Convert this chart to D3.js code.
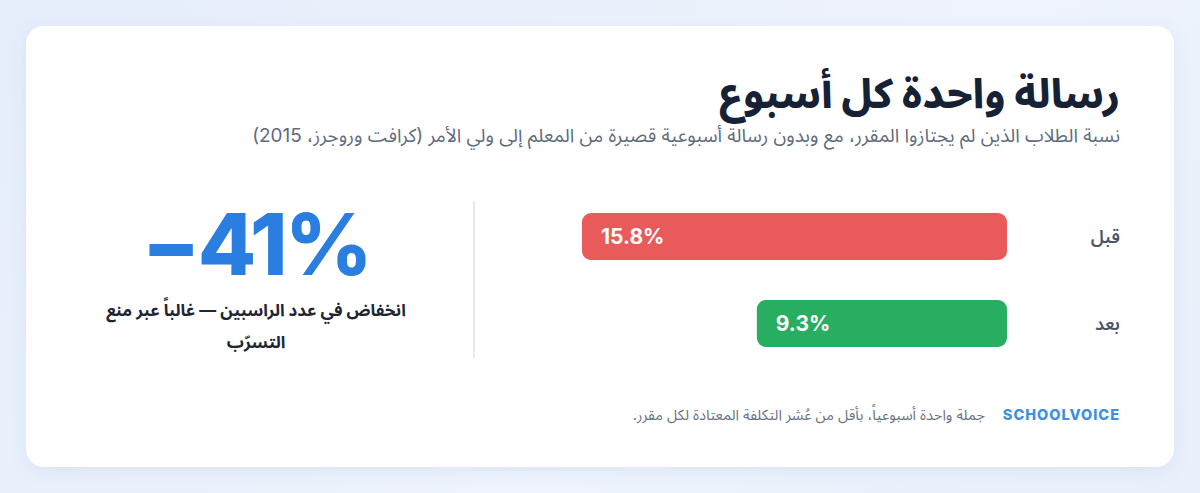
<!DOCTYPE html>
<html lang="ar">
<head>
<meta charset="utf-8">
<script src="https://cdn.jsdelivr.net/npm/d3@7"></script>
<style>
  html,body{margin:0;padding:0;}
  body{width:1200px;height:493px;overflow:hidden;background:linear-gradient(135deg,#e6edfb 0%,#eef3fc 60%,#e9f0fb 100%);font-family:Inter,"Noto Sans Arabic","Noto Sans",sans-serif;}
  svg{display:block;}
</style>
</head>
<body>
<script>
const categories = ["قبل", "بعد"];
const values = [15.8, 9.3];
const valueLabels = ["15.8%", "9.3%"];
const barColors = ["#e95a5a", "#27ae60"];
const title = "رسالة واحدة كل أسبوع";
const subtitle = "نسبة الطلاب الذين لم يجتازوا المقرر، مع وبدون رسالة أسبوعية قصيرة من المعلم إلى ولي الأمر (كرافت وروجرز، 2015)";
const bigStat = "−41%";
const captionLines = ["انخفاض في عدد الراسبين — غالباً عبر منع", "التسرّب"];
const brand = "SCHOOLVOICE";
const footNote = "جملة واحدة أسبوعياً، بأقل من عُشر التكلفة المعتادة لكل مقرر.";

const W = 1200, H = 493;
const svg = d3.select("body").append("svg").attr("width", W).attr("height", H);

const defs = svg.append("defs");
const f = defs.append("filter").attr("id","sh").attr("x","-10%").attr("y","-10%").attr("width","120%").attr("height","130%");
f.append("feDropShadow").attr("dx",0).attr("dy",4).attr("stdDeviation",8).attr("flood-color","#6b86c4").attr("flood-opacity",0.12);

svg.append("rect").attr("x",26).attr("y",26).attr("width",1148).attr("height",441)
  .attr("rx",18).attr("fill","#fff").attr("filter","url(#sh)");

const R = 1120;
svg.append("text").attr("x",R).attr("y",108).attr("direction","rtl").attr("text-anchor","start")
  .attr("font-size",40.5).attr("font-weight",800).attr("fill","#172136").text(title);
svg.append("text").attr("x",R).attr("y",142).attr("direction","rtl").attr("text-anchor","start")
  .attr("font-size",18.9).attr("fill","#5f6b7d").text(subtitle);

// bars
const x = d3.scaleLinear().domain([0, d3.max(values)]).range([0, 425]);
const barRight = 1007;
const y = d3.scaleBand().domain(categories).range([200, 360]).paddingInner(0.46).paddingOuter(0.1494);

const g = svg.append("g");
categories.forEach((c,i)=>{
  const w = x(values[i]);
  g.append("rect").attr("x",barRight - w).attr("y",y(c)).attr("width",w).attr("height",y.bandwidth())
    .attr("rx",9).attr("fill",barColors[i]);
  g.append("text").attr("x",barRight - w + 19).attr("y",y(c)+y.bandwidth()/2).attr("dy","0.36em")
    .attr("font-size",21).attr("font-weight",700).attr("fill","#fff").text(valueLabels[i]);
  g.append("text").attr("x",R).attr("y",y(c)+y.bandwidth()/2).attr("dy","0.36em")
    .attr("direction","rtl").attr("text-anchor","start")
    .attr("font-size",18).attr("font-weight",600).attr("fill","#4b5568").text(c);
});

// divider
svg.append("line").attr("x1",474).attr("x2",474).attr("y1",201).attr("y2",358)
  .attr("stroke","#e6e9ee").attr("stroke-width",2);

// big stat
svg.append("text").attr("x",256).attr("y",275).attr("text-anchor","middle")
  .attr("font-size",85).attr("font-weight",800).attr("letter-spacing",-2.5).attr("fill","#2a7ee0").text(bigStat);
captionLines.forEach((l,i)=>{
  svg.append("text").attr("x",256).attr("y",316 + i*32).attr("text-anchor","middle").attr("direction","rtl")
    .attr("font-size",16.9).attr("font-weight",700).attr("fill","#1e2533").text(l);
});

// footer
svg.append("text").attr("x",R).attr("y",420).attr("text-anchor","end")
  .attr("font-size",14.5).attr("font-weight",800).attr("letter-spacing",1).attr("fill","#3d8fe0").text(brand);
svg.append("text").attr("x",985).attr("y",420).attr("direction","rtl").attr("text-anchor","start")
  .attr("font-size",14.6).attr("fill","#6b7280").text(footNote);
</script>
</body>
</html>
